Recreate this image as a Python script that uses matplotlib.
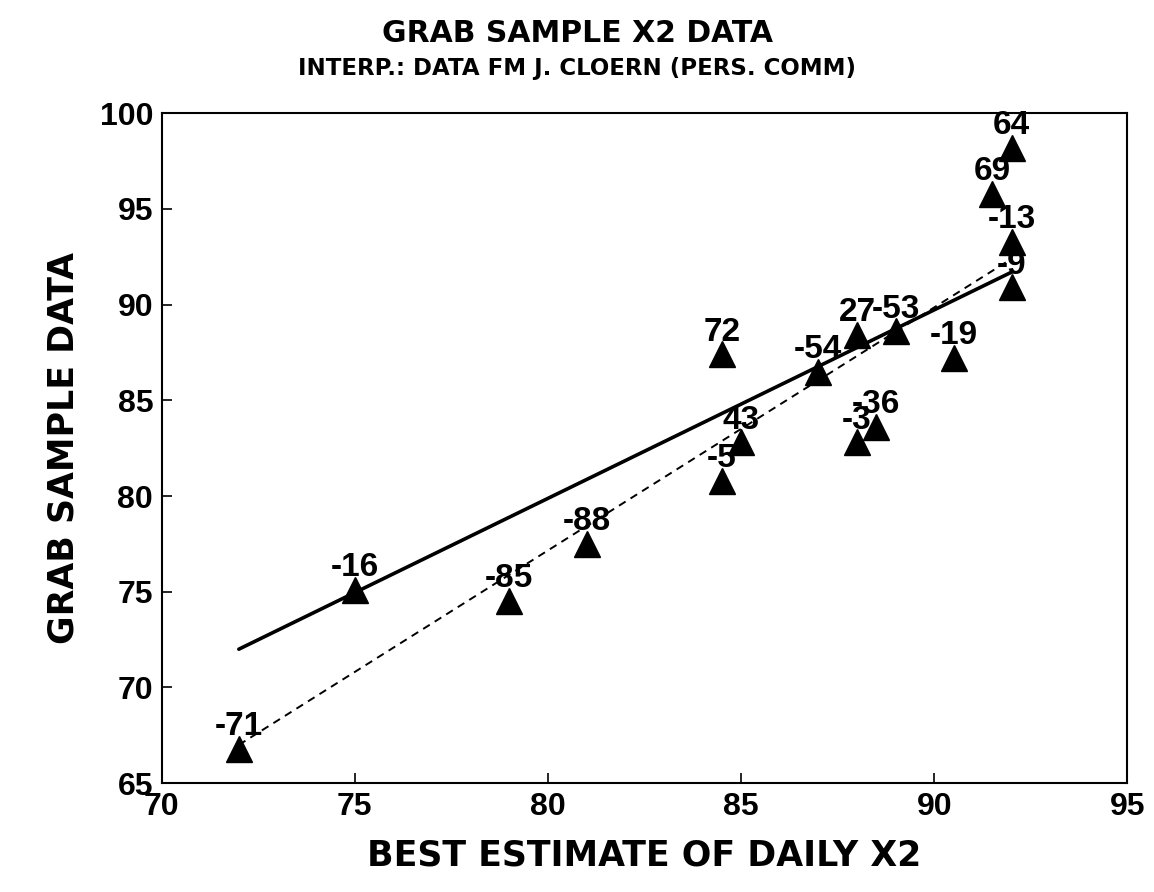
import matplotlib
matplotlib.use("Agg")
import matplotlib.pyplot as plt

# Data
x_vals = [72, 75, 79, 81, 84.5, 84.5, 85, 87, 88, 88, 88.5, 89, 90.5, 91.5, 92, 92, 92]
y_vals = [66.8, 75.1, 74.5, 77.5, 87.4, 80.8, 82.8, 86.5, 88.4, 82.8, 83.6, 88.6, 87.2, 95.8, 98.2, 93.3, 90.9]
labels = ["-71", "-16", "-85", "-88", "72", "-5", "43", "-54", "27", "-3", "-36", "-53", "-19", "69", "64", "-13", "-9"]

solid_x = [72, 92]
solid_y = [72.0, 91.7]
dashed_x = [72, 92]
dashed_y = [67.0, 92.4]

xticks = [70, 75, 80, 85, 90, 95]
yticks = [65, 70, 75, 80, 85, 90, 95, 100]

plt.rcParams['font.family'] = ['Liberation Sans', 'DejaVu Sans']
plt.rcParams['font.weight'] = 'bold'

fig = plt.figure(figsize=(11.54, 8.92), dpi=100)
ax = fig.add_axes([0.140, 0.122, 0.837, 0.751])

ax.plot(solid_x, solid_y, color='black', lw=2.6, solid_capstyle='round')
ax.plot(dashed_x, dashed_y, color='black', lw=1.4, ls=(0, (4, 3)))
ax.plot(x_vals, y_vals, ls='none', marker='^', ms=19, color='black')

for x, y, t in zip(x_vals, y_vals, labels):
    ax.annotate(t, (x, y), xytext=(0, 5), textcoords='offset points',
                ha='center', va='bottom', fontsize=24, fontweight='bold')

ax.set_xlim(70, 95)
ax.set_ylim(65, 100)
ax.set_xticks(xticks)
ax.set_yticks(yticks)
ax.tick_params(direction='in', length=7, width=1.2, labelsize=23, pad=6)
for lab in ax.get_xticklabels() + ax.get_yticklabels():
    lab.set_fontweight('bold')
for sp in ax.spines.values():
    sp.set_linewidth(1.5)

ax.set_xlabel("BEST ESTIMATE OF DAILY X2", fontsize=25, fontweight='bold',
              family=['DejaVu Sans'], labelpad=12)
ax.set_ylabel("GRAB SAMPLE DATA", fontsize=25, fontweight='bold',
              family=['DejaVu Sans'], labelpad=14)

fig.text(0.5, 0.963, "GRAB SAMPLE X2 DATA", ha='center', va='center', fontsize=21.5,
         fontweight='bold', family=['DejaVu Sans'])
fig.text(0.5, 0.923, "INTERP.: DATA FM J. CLOERN (PERS. COMM)", ha='center', va='center',
         fontsize=16.5, fontweight='bold', family=['DejaVu Sans'])

fig.savefig("out.png", dpi=100)
